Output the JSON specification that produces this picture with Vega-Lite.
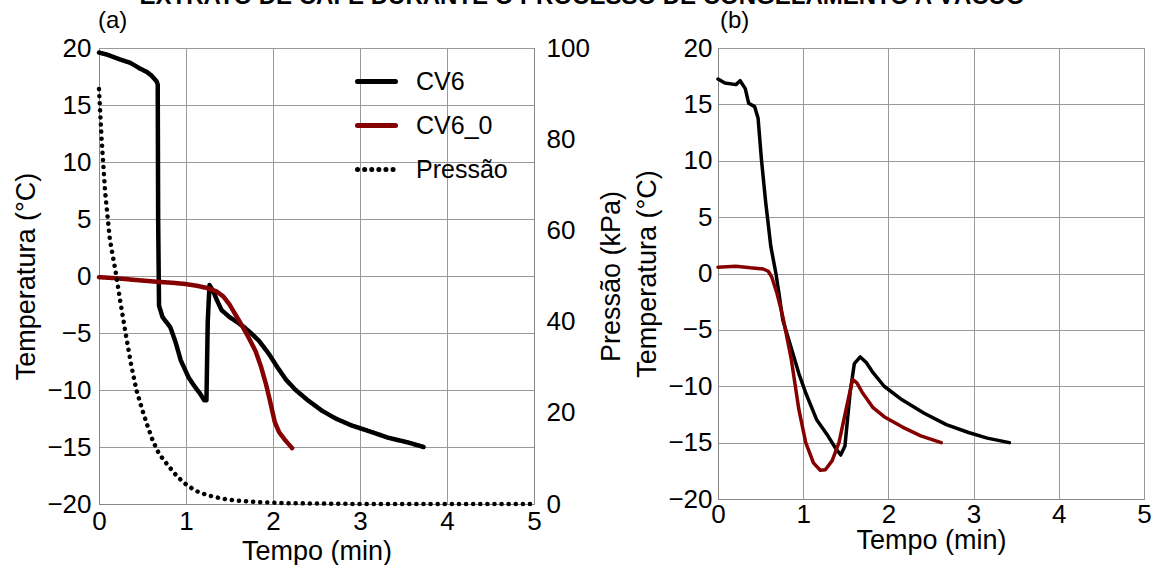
{
  "$schema": "https://vega.github.io/schema/vega-lite/v6.json",
  "padding": {"left": 12, "top": -16, "right": 5, "bottom": 0},
  "background": "white",
  "title": {"text": "EXTRATO DE CAFÉ DURANTE O PROCESSO DE CONGELAMENTO A VÁCUO", "fontSize": 24, "font": "Liberation Sans", "fontWeight": "bold", "anchor": "middle", "offset": 0, "color": "black"},
  "config": {
    "font": "Liberation Sans",
    "view": {"stroke": "#888"},
    "axis": {"gridColor": "#9a9a9a", "gridWidth": 1, "gridOpacity": 1, "domainColor": "#888", "ticks": false, "labelFlush": false, "labelFont": "Liberation Sans", "labelFontSize": 26, "labelColor": "black", "titleFont": "Liberation Sans", "titleFontSize": 27, "titleFontWeight": "normal", "titleColor": "black"},
    "legend": {"labelFont": "Liberation Sans", "labelFontSize": 25, "labelColor": "black"},
    "title": {"font": "Liberation Sans", "color": "black"}
  },
  "datasets": {
    "a_temp": [
      {"serie": "CV6", "t": 0, "T": 19.6},
      {"serie": "CV6", "t": 0.1, "T": 19.4},
      {"serie": "CV6", "t": 0.24, "T": 19.0},
      {"serie": "CV6", "t": 0.36, "T": 18.7},
      {"serie": "CV6", "t": 0.47, "T": 18.2},
      {"serie": "CV6", "t": 0.55, "T": 17.9},
      {"serie": "CV6", "t": 0.6, "T": 17.6},
      {"serie": "CV6", "t": 0.66, "T": 17.1},
      {"serie": "CV6", "t": 0.675, "T": 16.8},
      {"serie": "CV6", "t": 0.68, "T": 5},
      {"serie": "CV6", "t": 0.69, "T": -2.6},
      {"serie": "CV6", "t": 0.73, "T": -3.6},
      {"serie": "CV6", "t": 0.78, "T": -4.1},
      {"serie": "CV6", "t": 0.82, "T": -4.5},
      {"serie": "CV6", "t": 0.88, "T": -5.8},
      {"serie": "CV6", "t": 0.94, "T": -7.4},
      {"serie": "CV6", "t": 1.03, "T": -8.9},
      {"serie": "CV6", "t": 1.1, "T": -9.7},
      {"serie": "CV6", "t": 1.16, "T": -10.3},
      {"serie": "CV6", "t": 1.21, "T": -10.9},
      {"serie": "CV6", "t": 1.235, "T": -10.9},
      {"serie": "CV6", "t": 1.25, "T": -4},
      {"serie": "CV6", "t": 1.27, "T": -0.8},
      {"serie": "CV6", "t": 1.31, "T": -1.3},
      {"serie": "CV6", "t": 1.36, "T": -2.2},
      {"serie": "CV6", "t": 1.41, "T": -3.0},
      {"serie": "CV6", "t": 1.5, "T": -3.6},
      {"serie": "CV6", "t": 1.58, "T": -4.0},
      {"serie": "CV6", "t": 1.67, "T": -4.5},
      {"serie": "CV6", "t": 1.76, "T": -5.1},
      {"serie": "CV6", "t": 1.84, "T": -5.7},
      {"serie": "CV6", "t": 1.95, "T": -6.8},
      {"serie": "CV6", "t": 2.05, "T": -8.0},
      {"serie": "CV6", "t": 2.15, "T": -9.1},
      {"serie": "CV6", "t": 2.26, "T": -10.0},
      {"serie": "CV6", "t": 2.4, "T": -10.9},
      {"serie": "CV6", "t": 2.56, "T": -11.8},
      {"serie": "CV6", "t": 2.72, "T": -12.5},
      {"serie": "CV6", "t": 2.9, "T": -13.1},
      {"serie": "CV6", "t": 3.1, "T": -13.6},
      {"serie": "CV6", "t": 3.33, "T": -14.2},
      {"serie": "CV6", "t": 3.55, "T": -14.6},
      {"serie": "CV6", "t": 3.73, "T": -15.0},
      {"serie": "CV6_0", "t": 0, "T": -0.1},
      {"serie": "CV6_0", "t": 0.2, "T": -0.2},
      {"serie": "CV6_0", "t": 0.35, "T": -0.3},
      {"serie": "CV6_0", "t": 0.5, "T": -0.4},
      {"serie": "CV6_0", "t": 0.66, "T": -0.5},
      {"serie": "CV6_0", "t": 0.85, "T": -0.6},
      {"serie": "CV6_0", "t": 0.99, "T": -0.7},
      {"serie": "CV6_0", "t": 1.12, "T": -0.85},
      {"serie": "CV6_0", "t": 1.24, "T": -1.05},
      {"serie": "CV6_0", "t": 1.35, "T": -1.35},
      {"serie": "CV6_0", "t": 1.43, "T": -1.8},
      {"serie": "CV6_0", "t": 1.5, "T": -2.5},
      {"serie": "CV6_0", "t": 1.57, "T": -3.4},
      {"serie": "CV6_0", "t": 1.64, "T": -4.3},
      {"serie": "CV6_0", "t": 1.72, "T": -5.4},
      {"serie": "CV6_0", "t": 1.8, "T": -6.6},
      {"serie": "CV6_0", "t": 1.86, "T": -7.9},
      {"serie": "CV6_0", "t": 1.92, "T": -9.5},
      {"serie": "CV6_0", "t": 1.97, "T": -11.1},
      {"serie": "CV6_0", "t": 2.02, "T": -12.8},
      {"serie": "CV6_0", "t": 2.07, "T": -13.7},
      {"serie": "CV6_0", "t": 2.14, "T": -14.4},
      {"serie": "CV6_0", "t": 2.22, "T": -15.1}
    ],
    "a_pres": [
      {"serie": "Pressão", "t": 0, "P": 91},
      {"serie": "Pressão", "t": 0.03, "P": 80},
      {"serie": "Pressão", "t": 0.07, "P": 68.5},
      {"serie": "Pressão", "t": 0.125, "P": 58},
      {"serie": "Pressão", "t": 0.2, "P": 50},
      {"serie": "Pressão", "t": 0.24, "P": 45},
      {"serie": "Pressão", "t": 0.31, "P": 37},
      {"serie": "Pressão", "t": 0.37, "P": 30.5},
      {"serie": "Pressão", "t": 0.43, "P": 25},
      {"serie": "Pressão", "t": 0.5, "P": 20.5},
      {"serie": "Pressão", "t": 0.56, "P": 17},
      {"serie": "Pressão", "t": 0.62, "P": 13.8},
      {"serie": "Pressão", "t": 0.69, "P": 11},
      {"serie": "Pressão", "t": 0.8, "P": 8.3},
      {"serie": "Pressão", "t": 0.9, "P": 6},
      {"serie": "Pressão", "t": 1.0, "P": 4.3},
      {"serie": "Pressão", "t": 1.11, "P": 2.9},
      {"serie": "Pressão", "t": 1.25, "P": 1.9},
      {"serie": "Pressão", "t": 1.41, "P": 1.2},
      {"serie": "Pressão", "t": 1.6, "P": 0.7},
      {"serie": "Pressão", "t": 1.84, "P": 0.4},
      {"serie": "Pressão", "t": 2.1, "P": 0.2},
      {"serie": "Pressão", "t": 2.5, "P": 0.1},
      {"serie": "Pressão", "t": 3, "P": 0},
      {"serie": "Pressão", "t": 4, "P": 0},
      {"serie": "Pressão", "t": 5, "P": 0}
    ],
    "b_temp": [
      {"serie": "CV6", "t": 0, "T": 17.25},
      {"serie": "CV6", "t": 0.08, "T": 16.9},
      {"serie": "CV6", "t": 0.21, "T": 16.75},
      {"serie": "CV6", "t": 0.26, "T": 17.1},
      {"serie": "CV6", "t": 0.32, "T": 16.4},
      {"serie": "CV6", "t": 0.36, "T": 15.1},
      {"serie": "CV6", "t": 0.43, "T": 14.8},
      {"serie": "CV6", "t": 0.47, "T": 13.8},
      {"serie": "CV6", "t": 0.51, "T": 10.1},
      {"serie": "CV6", "t": 0.56, "T": 6.3},
      {"serie": "CV6", "t": 0.62, "T": 2.4},
      {"serie": "CV6", "t": 0.68, "T": 0},
      {"serie": "CV6", "t": 0.72, "T": -2.0},
      {"serie": "CV6", "t": 0.76, "T": -4.1},
      {"serie": "CV6", "t": 0.82, "T": -5.6},
      {"serie": "CV6", "t": 0.95, "T": -8.9},
      {"serie": "CV6", "t": 1.03, "T": -10.6},
      {"serie": "CV6", "t": 1.16, "T": -13.0},
      {"serie": "CV6", "t": 1.29, "T": -14.4},
      {"serie": "CV6", "t": 1.38, "T": -15.5},
      {"serie": "CV6", "t": 1.44, "T": -16.1},
      {"serie": "CV6", "t": 1.49, "T": -15.3},
      {"serie": "CV6", "t": 1.55, "T": -10.6},
      {"serie": "CV6", "t": 1.6, "T": -8.0},
      {"serie": "CV6", "t": 1.67, "T": -7.4},
      {"serie": "CV6", "t": 1.74, "T": -7.9},
      {"serie": "CV6", "t": 1.82, "T": -8.8},
      {"serie": "CV6", "t": 1.95, "T": -10.0},
      {"serie": "CV6", "t": 2.16, "T": -11.2},
      {"serie": "CV6", "t": 2.42, "T": -12.4},
      {"serie": "CV6", "t": 2.68, "T": -13.4},
      {"serie": "CV6", "t": 2.94, "T": -14.1},
      {"serie": "CV6", "t": 3.16, "T": -14.6},
      {"serie": "CV6", "t": 3.42, "T": -15.0},
      {"serie": "CV6_0", "t": 0, "T": 0.56},
      {"serie": "CV6_0", "t": 0.21, "T": 0.65},
      {"serie": "CV6_0", "t": 0.38, "T": 0.5},
      {"serie": "CV6_0", "t": 0.53, "T": 0.4},
      {"serie": "CV6_0", "t": 0.59, "T": 0.2},
      {"serie": "CV6_0", "t": 0.63, "T": -0.3},
      {"serie": "CV6_0", "t": 0.69, "T": -1.7},
      {"serie": "CV6_0", "t": 0.76, "T": -3.8},
      {"serie": "CV6_0", "t": 0.86, "T": -7.6},
      {"serie": "CV6_0", "t": 0.95, "T": -12.1},
      {"serie": "CV6_0", "t": 1.03, "T": -15.0},
      {"serie": "CV6_0", "t": 1.12, "T": -16.8},
      {"serie": "CV6_0", "t": 1.2, "T": -17.45},
      {"serie": "CV6_0", "t": 1.26, "T": -17.4},
      {"serie": "CV6_0", "t": 1.34, "T": -16.6},
      {"serie": "CV6_0", "t": 1.42, "T": -15.0},
      {"serie": "CV6_0", "t": 1.51, "T": -11.8},
      {"serie": "CV6_0", "t": 1.58, "T": -9.4},
      {"serie": "CV6_0", "t": 1.63, "T": -9.7},
      {"serie": "CV6_0", "t": 1.69, "T": -10.5},
      {"serie": "CV6_0", "t": 1.82, "T": -11.9},
      {"serie": "CV6_0", "t": 1.95, "T": -12.7},
      {"serie": "CV6_0", "t": 2.16, "T": -13.6},
      {"serie": "CV6_0", "t": 2.38, "T": -14.4},
      {"serie": "CV6_0", "t": 2.62, "T": -15.0}
    ]
  },
  "resolve": {"scale": {"color": "independent", "strokeDash": "independent"}, "legend": {"color": "independent", "strokeDash": "independent"}},
  "bounds": "flush",
  "spacing": 184,
  "hconcat": [
    {
      "title": {"text": "(a)", "anchor": "start", "frame": "group", "fontSize": 24, "fontWeight": "normal", "offset": 2, "dx": -1},
      "width": 435,
      "height": 456,
      "layer": [
        {
          "layer": [
            {
              "data": {"name": "a_temp"},
              "mark": {"type": "line", "strokeWidth": 4.5, "strokeJoin": "round", "strokeCap": "round"},
              "encoding": {
                "x": {"field": "t", "type": "quantitative", "scale": {"domain": [0, 5], "nice": false}, "axis": {"values": [0, 1, 2, 3, 4, 5], "format": "d", "title": "Tempo (min)", "labelPadding": 4, "titlePadding": 4}},
                "y": {"field": "T", "type": "quantitative", "scale": {"domain": [-20, 20], "nice": false}, "axis": {"values": [-20, -15, -10, -5, 0, 5, 10, 15, 20], "format": "d", "title": "Temperatura (°C)", "labelPadding": 8, "titlePadding": 6}},
                "color": {"field": "serie", "type": "nominal", "scale": {"domain": ["CV6", "CV6_0", "Pressão"], "range": ["#000000", "#850000", "#000000"]}, "legend": {"title": null, "orient": "none", "legendX": 256, "legendY": 12, "symbolType": "stroke", "symbolSize": 1444, "symbolStrokeWidth": 5, "labelOffset": 18, "rowPadding": 9, "padding": 0, "labelFontSize": 25, "encode": {"symbols": {"update": {"strokeCap": {"value": "round"}}}}}},
                "strokeDash": {"field": "serie", "type": "nominal", "scale": {"domain": ["CV6", "CV6_0", "Pressão"], "range": [[1, 0], [1, 0], [0.1, 7]]}, "legend": {"title": null, "orient": "none", "legendX": 256, "legendY": 12, "symbolType": "stroke", "symbolSize": 1444, "symbolStrokeWidth": 5, "labelOffset": 18, "rowPadding": 9, "padding": 0, "labelFontSize": 25, "encode": {"symbols": {"update": {"strokeCap": {"value": "round"}}}}}}
              }
            },
            {
              "mark": {"type": "rule", "strokeDash": [22, 24], "strokeWidth": 3, "color": "black"},
              "encoding": {"y": {"datum": 0, "type": "quantitative"}}
            }
          ]
        },
        {
          "data": {"name": "a_pres"},
          "mark": {"type": "line", "strokeWidth": 4.5, "strokeCap": "round"},
          "encoding": {
            "x": {"field": "t", "type": "quantitative"},
            "y": {"field": "P", "type": "quantitative", "scale": {"domain": [0, 100], "nice": false}, "axis": {"orient": "right", "values": [0, 20, 40, 60, 80, 100], "format": "d", "grid": false, "title": "Pressão (kPa)", "titleAngle": 270, "labelPadding": 12, "titlePadding": 36}},
            "color": {"field": "serie", "type": "nominal"},
            "strokeDash": {"field": "serie", "type": "nominal"}
          }
        }
      ],
      "resolve": {"scale": {"y": "independent"}}
    },
    {
      "title": {"text": "(b)", "anchor": "start", "frame": "group", "fontSize": 24, "fontWeight": "normal", "offset": 2, "dx": 2},
      "width": 426,
      "height": 451,
      "data": {"name": "b_temp"},
      "mark": {"type": "line", "strokeWidth": 3.5, "strokeJoin": "round", "strokeCap": "round"},
      "encoding": {
        "x": {"field": "t", "type": "quantitative", "scale": {"domain": [0, 5], "nice": false}, "axis": {"values": [0, 1, 2, 3, 4, 5], "format": "d", "title": "Tempo (min)", "labelPadding": 2, "titlePadding": 0, "labelDx": 6, "titleDx": 8}},
        "y": {"field": "T", "type": "quantitative", "scale": {"domain": [-20, 20], "nice": false}, "axis": {"values": [-20, -15, -10, -5, 0, 5, 10, 15, 20], "format": "d", "title": "Temperatura (°C)", "labelPadding": 6, "titlePadding": 6}},
        "color": {"field": "serie", "type": "nominal", "scale": {"domain": ["CV6", "CV6_0"], "range": ["#000000", "#850000"]}, "legend": null}
      }
    }
  ]
}
